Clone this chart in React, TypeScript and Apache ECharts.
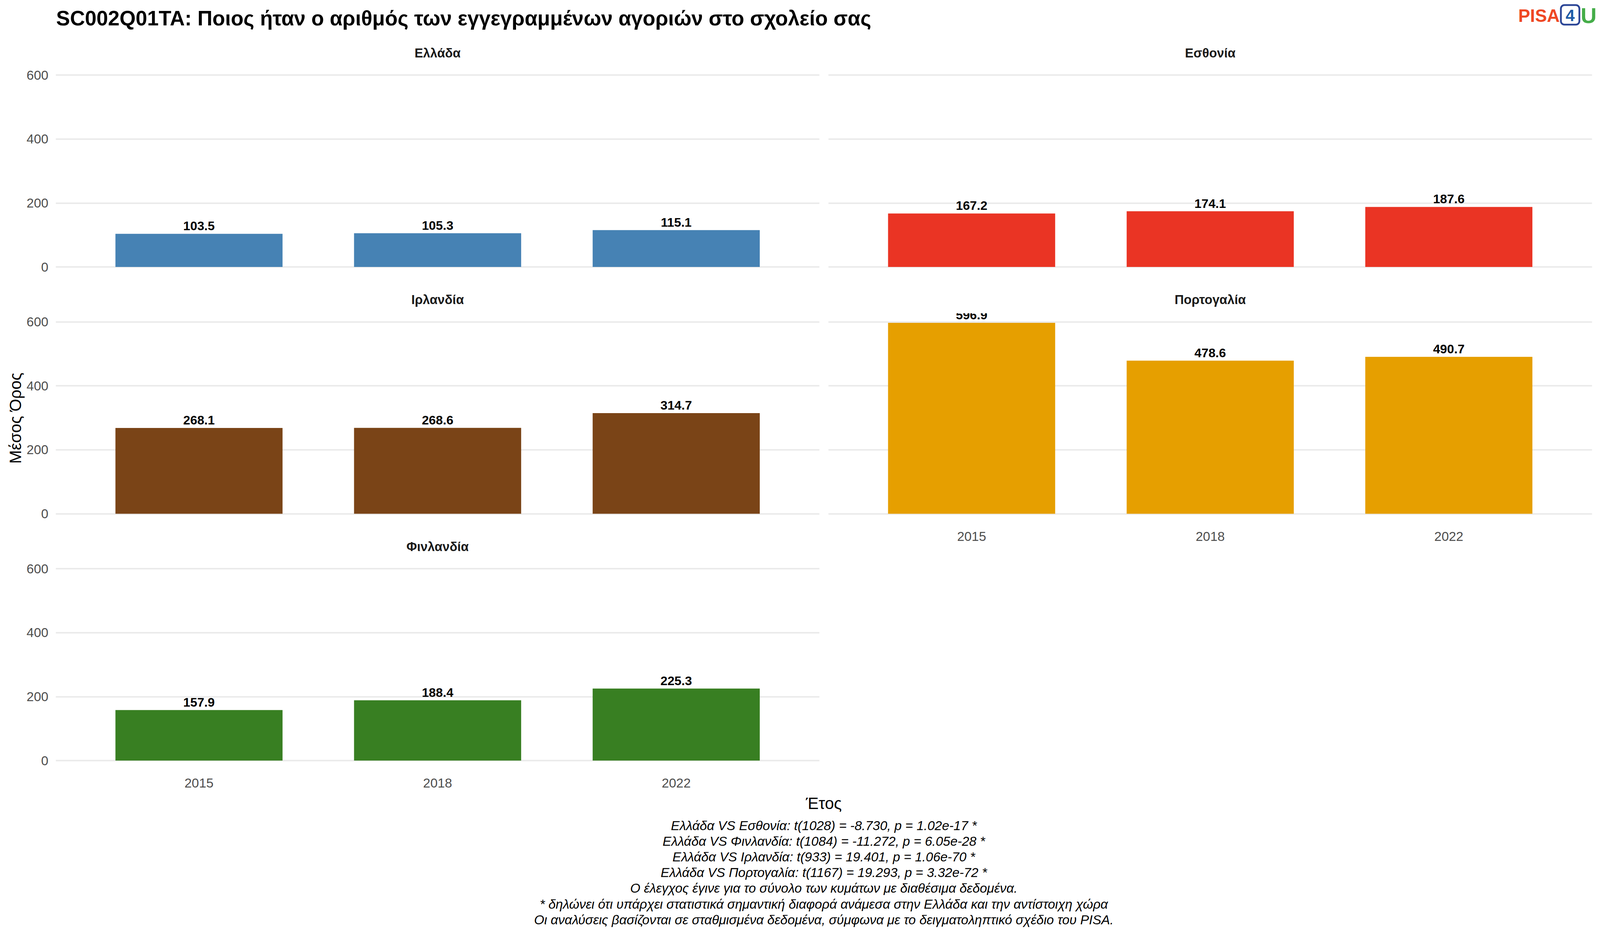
import React, { useEffect, useRef } from "react";
import * as echarts from "echarts";

// data
const years = ["2015", "2018", "2022"];
const countries = ["Ελλάδα", "Εσθονία", "Ιρλανδία", "Πορτογαλία", "Φινλανδία"];
const greeceValues = [103.5, 105.3, 115.1];
const estoniaValues = [167.2, 174.1, 187.6];
const irelandValues = [268.1, 268.6, 314.7];
const portugalValues = [596.9, 478.6, 490.7];
const finlandValues = [157.9, 188.4, 225.3];
const yTicks = [0, 200, 400, 600];

const titleText = "SC002Q01TA: Ποιος ήταν ο αριθμός των εγγεγραμμένων αγοριών στο σχολείο σας";
const xTitle = "Έτος";
const yTitle = "Μέσος Όρος";
const captionLines = [
    "Ελλάδα VS Εσθονία: t(1028) = -8.730, p = 1.02e-17 *",
    "Ελλάδα VS Φινλανδία: t(1084) = -11.272, p = 6.05e-28 *",
    "Ελλάδα VS Ιρλανδία: t(933) = 19.401, p = 1.06e-70 *",
    "Ελλάδα VS Πορτογαλία: t(1167) = 19.293, p = 3.32e-72 *",
    "Ο έλεγχος έγινε για το σύνολο των κυμάτων με διαθέσιμα δεδομένα.",
    "* δηλώνει ότι υπάρχει στατιστικά σημαντική διαφορά ανάμεσα στην Ελλάδα και την αντίστοιχη χώρα",
    "Οι αναλύσεις βασίζονται σε σταθμισμένα δεδομένα, σύμφωνα με το δειγματοληπτικό σχέδιο του PISA.",
];

const FONT = "'Liberation Sans', Arial, sans-serif";
// layout in reference pixels (4500 x 2400), scaled to the actual page size
const REF_W = 4500;
const REF_H = 2400;
const colLeft = [157, 2330];
const colWidth = 2147.5;
const rowTop = [192, 823.5, 1455];
const rowHeight = 491;

const panels = [
    { name: countries[0], values: greeceValues, color: "#4682B4", row: 0, col: 0 },
    { name: countries[1], values: estoniaValues, color: "#EA3424", row: 0, col: 1 },
    { name: countries[2], values: irelandValues, color: "#7A4417", row: 1, col: 0 },
    { name: countries[3], values: portugalValues, color: "#E69F00", row: 1, col: 1 },
    { name: countries[4], values: finlandValues, color: "#387F22", row: 2, col: 0 },
];

const App: React.FC = () => {
    const chartRef = useRef<HTMLDivElement>(null);

    useEffect(() => {
        document.body.style.margin = "0";
        if (!chartRef.current) return;
        const el = chartRef.current;
        const sx = (el.clientWidth || REF_W) / REF_W;
        const sy = (el.clientHeight || REF_H) / REF_H;
        const fs = Math.min(sx, sy);
        const X = (v: number) => v * sx;
        const Y = (v: number) => v * sy;
        const F = (v: number) => v * fs;

        const chart = echarts.init(el, undefined, { renderer: "svg" });

        const grids = panels.map(p => ({
            left: X(colLeft[p.col]),
            top: Y(rowTop[p.row]),
            width: X(colWidth),
            height: Y(rowHeight),
        }));

        const xAxes = panels.map((p, i) => {
            const showX = (p.row === 2 && p.col === 0) || (p.row === 1 && p.col === 1);
            return {
                type: "value",
                gridIndex: i,
                min: 0.4,
                max: 3.6,
                interval: 0.2,
                axisLine: { show: false },
                axisTick: { show: false },
                splitLine: { show: false },
                axisLabel: {
                    show: showX,
                    margin: Y(41),
                    fontSize: F(36.7),
                    fontFamily: FONT,
                    color: "#4D4D4D",
                    formatter: (v: number) => {
                        const r = Math.round(v);
                        if (Math.abs(v - r) > 1e-6 || r < 1 || r > years.length) return "";
                        return years[r - 1];
                    },
                },
            };
        });

        const yAxes = panels.map((p, i) => ({
            type: "value",
            gridIndex: i,
            min: yTicks[0],
            max: yTicks[yTicks.length - 1],
            interval: 200,
            axisLine: { show: false },
            axisTick: { show: false },
            axisLabel: {
                show: p.col === 0,
                margin: X(21),
                fontSize: F(36.7),
                fontFamily: FONT,
                color: "#4D4D4D",
            },
            splitLine: { lineStyle: { color: "#EBEBEB", width: F(4.4) } },
        }));

        const series = panels.map((p, i) => ({
            type: "bar",
            name: p.name,
            xAxisIndex: i,
            yAxisIndex: i,
            barWidth: X(470),
            itemStyle: { color: p.color },
            data: p.values.map((v, j) => [j + 1, v]),
            label: {
                show: true,
                position: "top",
                distance: Y(4),
                fontSize: F(35.4),
                fontWeight: "bold",
                fontFamily: FONT,
                color: "#000000",
                formatter: (params: any) => params.value[1].toFixed(1),
            },
        }));

        const graphics: any[] = [];
        panels.forEach(p => {
            // mask so labels are clipped at the panel top, as in the original
            graphics.push({
                type: "rect",
                z: 100,
                shape: { x: X(colLeft[p.col]), y: Y(rowTop[p.row] - 39), width: X(colWidth), height: Y(17) },
                style: { fill: "#FFFFFF" },
            });
            graphics.push({
                type: "text",
                z: 101,
                x: X(colLeft[p.col] + colWidth / 2),
                y: Y(rowTop[p.row] - 57),
                style: {
                    text: p.name,
                    fill: "#1A1A1A",
                    fontSize: F(36),
                    fontWeight: "bold",
                    fontFamily: FONT,
                    textAlign: "center",
                    textVerticalAlign: "middle",
                },
            });
        });

        graphics.push({
            type: "text",
            x: X(158),
            y: Y(46),
            style: {
                text: titleText,
                fill: "#000000",
                fontSize: F(58.3),
                fontWeight: "bold",
                fontFamily: FONT,
                textAlign: "left",
                textVerticalAlign: "middle",
            },
        });
        graphics.push({
            type: "text",
            x: X(2317),
            y: Y(2055),
            style: {
                text: xTitle,
                fill: "#000000",
                fontSize: F(45.8),
                fontFamily: FONT,
                textAlign: "center",
                textVerticalAlign: "middle",
            },
        });
        graphics.push({
            type: "text",
            x: X(43),
            y: Y(1070),
            rotation: Math.PI / 2,
            style: {
                text: yTitle,
                fill: "#000000",
                fontSize: F(45.8),
                fontFamily: FONT,
                textAlign: "center",
                textVerticalAlign: "middle",
            },
        });
        captionLines.forEach((line, k) => {
            graphics.push({
                type: "text",
                x: X(2317),
                y: Y(2112 + k * 40.2),
                style: {
                    text: line,
                    fill: "#000000",
                    fontSize: F(36.7),
                    fontStyle: "italic",
                    fontFamily: FONT,
                    textAlign: "center",
                    textVerticalAlign: "middle",
                },
            });
        });

        // PISA4U logo
        graphics.push({
            type: "text",
            x: X(4270),
            y: Y(40),
            style: {
                text: "PISA",
                fill: "#EF4824",
                fontSize: F(50),
                fontWeight: "bold",
                fontFamily: FONT,
                textAlign: "left",
                textVerticalAlign: "middle",
            },
        });
        graphics.push({
            type: "rect",
            shape: { x: X(4390), y: Y(13), width: X(52), height: Y(50), r: F(10) },
            style: { fill: "none", stroke: "#2B4596", lineWidth: F(5) },
        });
        graphics.push({
            type: "text",
            x: X(4416),
            y: Y(39),
            style: {
                text: "4",
                fill: "#1D5BA6",
                fontSize: F(46),
                fontWeight: "bold",
                fontFamily: FONT,
                textAlign: "center",
                textVerticalAlign: "middle",
            },
        });
        graphics.push({
            type: "text",
            x: X(4468),
            y: Y(39),
            style: {
                text: "U",
                fill: "#45AD49",
                fontSize: F(62),
                fontWeight: "bold",
                fontFamily: FONT,
                textAlign: "center",
                textVerticalAlign: "middle",
            },
        });

        chart.setOption({
            animation: false,
            backgroundColor: "#FFFFFF",
            grid: grids,
            xAxis: xAxes,
            yAxis: yAxes,
            series,
            graphic: { elements: graphics },
        });

        return () => {
            chart.dispose();
        };
    }, []);

    return (
        <div
            ref={chartRef}
            style={{ position: "fixed", left: 0, top: 0, width: "100vw", height: "100vh" }}
        />
    );
};

export default App;
